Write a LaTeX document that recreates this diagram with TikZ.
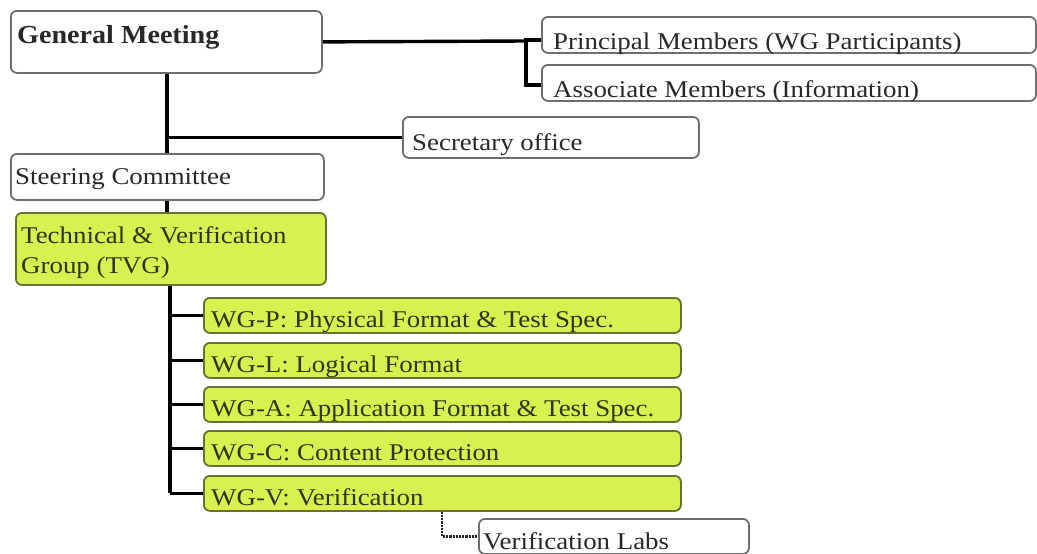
\documentclass[tikz,border=0pt]{standalone}
\usepackage{fontspec}
\setmainfont{Liberation Serif}
\usetikzlibrary{calc}

\definecolor{wgfill}{RGB}{216,240,80}
\definecolor{wgline}{RGB}{105,112,48}
\definecolor{boxline}{RGB}{110,110,110}
\definecolor{ink}{RGB}{40,40,40}
\definecolor{wgink}{RGB}{48,52,16}

\tikzset{
  orgbox/.style={draw=boxline, line width=1.8pt, fill=white, rounded corners=6pt,
                 inner sep=0pt, anchor=north west},
  wgbox/.style={orgbox, draw=wgline, fill=wgfill},
  lbl/.style={anchor=base west, inner sep=0pt, text=ink, xscale=1.12, transform shape,
              font=\fontsize{24}{28}\selectfont},
  wglbl/.style={lbl, text=wgink},
  conn/.style={line width=3.4pt, black},
  dotconn/.style={line width=2.2pt, densely dotted, black!85}
}

\begin{document}
\begin{tikzpicture}[x=1pt, y=-1pt]
  \useasboundingbox (0,0) rectangle (1037,554);

  % top level
  \node[orgbox, minimum width=311pt, minimum height=62pt] (gm) at (10,10) {};
  \node[lbl, xscale=0.965, font=\bfseries\fontsize{26}{30}\selectfont] (gmt) at (17,43) {General Meeting};

  \node[orgbox, minimum width=494pt, minimum height=36pt] (pm) at (541,16) {};
  \node[lbl] (pmt) at (553,49) {Principal Members (WG Participants)};

  \node[orgbox, minimum width=494pt, minimum height=36pt] (am) at (541,64) {};
  \node[lbl] (amt) at (553,97) {Associate Members (Information)};

  \node[orgbox, minimum width=296pt, minimum height=41pt] (so) at (402,116) {};
  \node[lbl] (sot) at (412,150) {Secretary office};

  \node[orgbox, minimum width=313pt, minimum height=46pt] (sc) at (10,153) {};
  \node[lbl] (sct) at (15,184) {Steering Committee};

  \node[wgbox, minimum width=310pt, minimum height=72pt] (tvg) at (15,212) {};
  \node[wglbl] (tvgt1) at (21,243) {Technical \& Verification};
  \node[wglbl] (tvgt2) at (21,273) {Group (TVG)};

  % working groups
  \node[wgbox, minimum width=477pt, minimum height=35pt] (wgp) at (203,297) {};
  \node[wglbl] (wgpt) at (211,327) {WG-P: Physical Format \& Test Spec.};

  \node[wgbox, minimum width=477pt, minimum height=35pt] (wgl) at (203,342) {};
  \node[wglbl] (wglt) at (211,372) {WG-L: Logical Format};

  \node[wgbox, minimum width=477pt, minimum height=35pt] (wga) at (203,386) {};
  \node[wglbl] (wgat) at (211,416) {WG-A: Application Format \& Test Spec.};

  \node[wgbox, minimum width=477pt, minimum height=35pt] (wgc) at (203,430) {};
  \node[wglbl] (wgct) at (211,460) {WG-C: Content Protection};

  \node[wgbox, minimum width=477pt, minimum height=35pt] (wgv) at (203,475) {};
  \node[wglbl] (wgvt) at (211,505) {WG-V: Verification};

  \node[orgbox, minimum width=270pt, minimum height=35pt] (vl) at (478,518) {};
  \node[lbl] (vlt) at (483,549) {Verification Labs};

  % connectors
  \coordinate (br) at (526,41);
  \draw[conn] (gm.east) -- (br);
  \draw[conn] ($(pm.west)+(0,5)$) -| ($(am.west)+(-15,2)$) -- ($(am.west)+(0,2)$);

  \coordinate (trunk) at (167,0);
  \draw[conn] (gm.south -| trunk) -- (sc.north -| trunk);
  \draw[conn] (so.west -| trunk) -- (so.west);
  \draw[conn] (sc.south -| trunk) -- (tvg.north -| trunk);

  \coordinate (wgtrunk) at (170,0);
  \draw[conn] (tvg.south -| wgtrunk) -- (wgv.west -| wgtrunk);
  \foreach \g in {wgp,wgl,wga,wgc,wgv}
    \draw[conn] (\g.west -| wgtrunk) -- (\g.west);

  \draw[dotconn] ($(wgv.south west)+(239,0)$) |- (vl.west);
\end{tikzpicture}
\end{document}
